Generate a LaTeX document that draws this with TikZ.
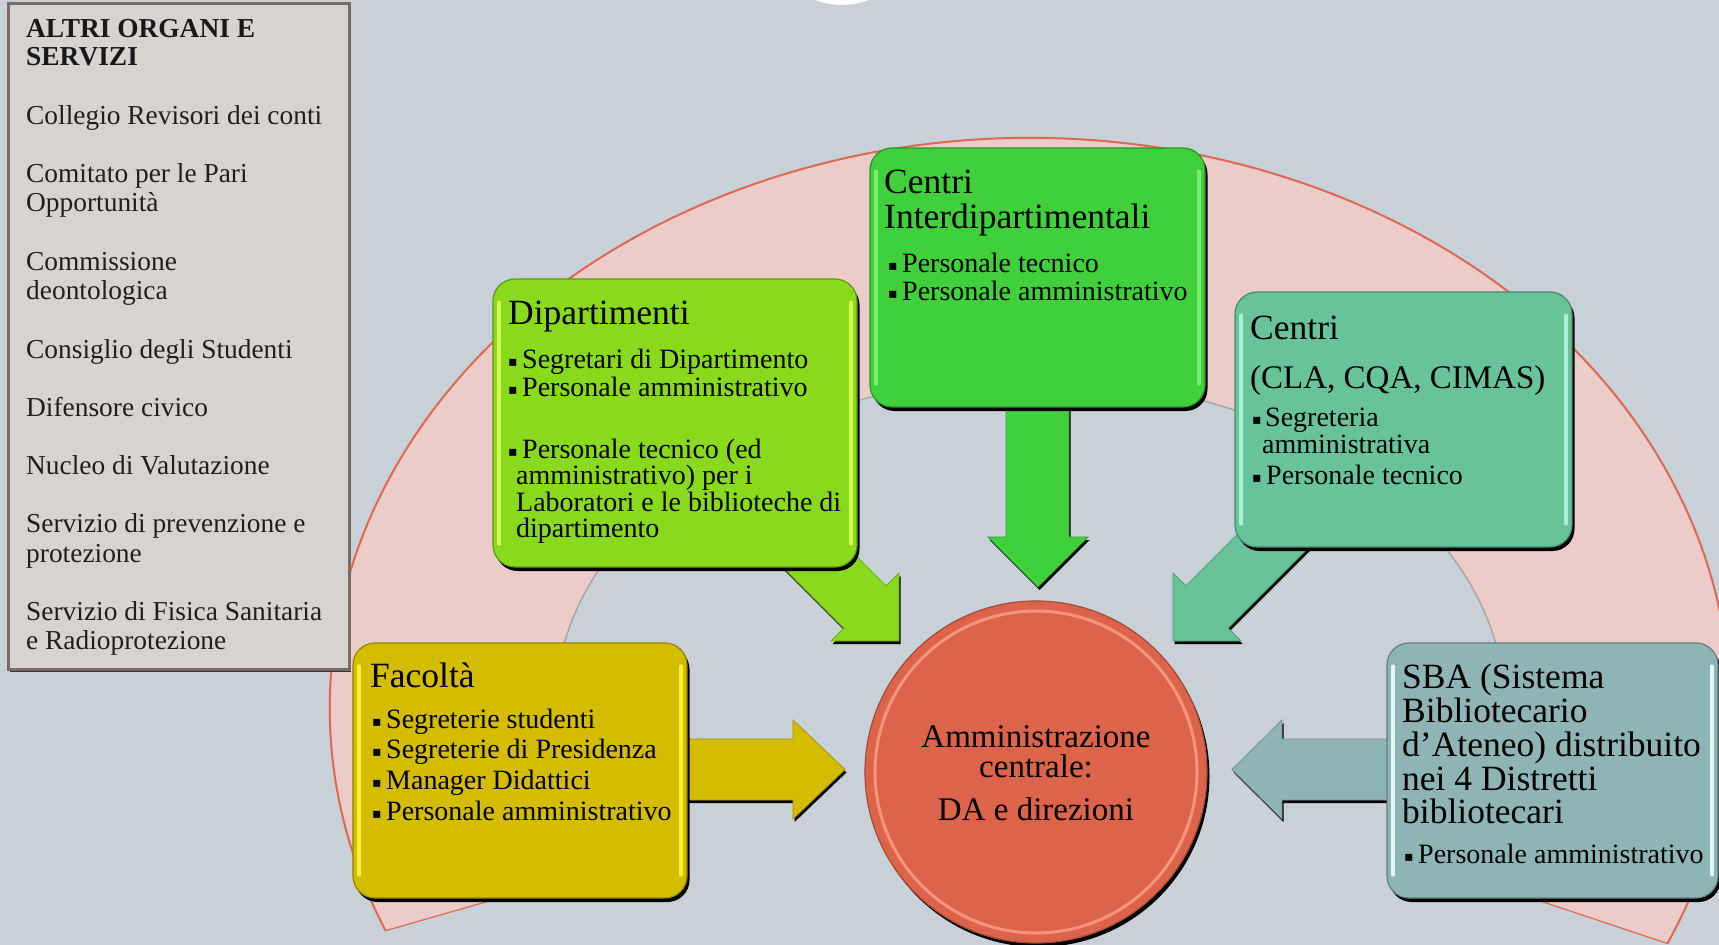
\documentclass[tikz,border=0pt]{standalone}
\usepackage{fontspec}
\setmainfont{Liberation Serif}
\newfontfamily\symf{DejaVu Sans}
\usetikzlibrary{shadows}
\definecolor{bgc}{RGB}{199,209,215}
\definecolor{pinkc}{RGB}{236,204,201}
\definecolor{arcc}{RGB}{222,104,82}
\definecolor{altf}{RGB}{215,211,208}
\definecolor{altd}{RGB}{122,108,100}
\definecolor{dipc}{RGB}{137,217,28}
\definecolor{diph}{RGB}{215,250,80}
\definecolor{cidc}{RGB}{64,208,60}
\definecolor{cidh}{RGB}{120,240,110}
\definecolor{cenc}{RGB}{104,196,152}
\definecolor{cenh}{RGB}{170,240,210}
\definecolor{facc}{RGB}{212,188,0}
\definecolor{fach}{RGB}{255,240,60}
\definecolor{sbac}{RGB}{143,180,180}
\definecolor{sbah}{RGB}{225,248,248}
\definecolor{ammc}{RGB}{220,100,74}
\definecolor{ammh}{RGB}{245,150,120}
\begin{document}
\begin{tikzpicture}[x=1pt,y=-1pt,
  box/.style={rectangle, rounded corners=22pt, fill=#1, draw=#1!70!black, line width=1.2pt, inner sep=0pt,
    drop shadow={shadow xshift=2.5pt, shadow yshift=-4pt, opacity=1, fill=black}},
  hl/.style={line width=4pt, draw=#1, line cap=round},
  arw/.style={fill=#1, draw=#1!80!black, line width=0.8pt,
    drop shadow={shadow xshift=1.5pt, shadow yshift=-3pt, opacity=1, fill=black}},
  ttl/.style={anchor=base west, inner sep=0pt, font=\fontsize{35.5}{36}\selectfont},
  ttlb/.style={anchor=base west, inner sep=0pt, font=\fontsize{33}{34}\selectfont},
  itm/.style={anchor=base west, inner sep=0pt, font=\fontsize{28}{30}\selectfont},
  bul/.style={anchor=base west, inner sep=0pt, font=\symf\fontsize{14}{16}\selectfont},
  alt/.style={anchor=base west, inner sep=0pt, font=\fontsize{27.4}{29}\selectfont, text=black!88},
  altb/.style={anchor=base west, inner sep=0pt, font=\bfseries\fontsize{27.4}{29}\selectfont, text=black!90},
  ctr/.style={anchor=base, inner sep=0pt, font=\fontsize{33}{34}\selectfont}]
\useasboundingbox (0,0) rectangle (1719,945);
\fill[bgc] (0,0) rectangle (1719,945);
\begin{scope}
\clip (0,0) rectangle (1719,945);
\fill[white] (842,-68) circle (73);
\fill[pinkc] (385.6,930.7) arc[start angle=157, end angle=384.4, x radius=700, y radius=570]
  -- (1444.6,869) arc[start angle=389.2, end angle=151.5, x radius=475, y radius=330] -- cycle;
\draw[arcc, line width=2pt] (385.6,930.7) arc[start angle=157, end angle=384.4, x radius=700, y radius=570];
\draw[arcc, line width=1.2pt] (385.6,930.7) -- (612.7,865.5);
\draw[arcc, line width=1.2pt] (1667.5,943.5) -- (1444.6,869);
\draw[gray!70, line width=1.5pt] (1444.6,869) arc[start angle=389.2, end angle=151.5, x radius=475, y radius=330];
\end{scope}

% arrows
\draw[arw=facc] (680,739) -- (793,739) -- (793,720) -- (845,769.5) -- (793,819) -- (793,800) -- (680,800) -- cycle;
\draw[arw=sbac] (1395,739) -- (1282,739) -- (1282,720) -- (1232,769.5) -- (1282,819) -- (1282,800) -- (1395,800) -- cycle;
\draw[arw=cidc] (1006,400) -- (1006,537) -- (988,537) -- (1038,587) -- (1088,537) -- (1069,537) -- (1069,400) -- cycle;
\draw[arw=dipc] (771.8,556.2) -- (843.8,628.2) -- (831,641) -- (899,641) -- (899,573) -- (886.2,585.8) -- (814.2,513.8) -- cycle;
\draw[arw=cenc] (1272,499.6) -- (1185.8,585.8) -- (1173,573) -- (1173,641) -- (1241,641) -- (1228.2,628.2) -- (1314.4,542) -- cycle;

% boxes
\node[rectangle, fill=altf, draw=altd, line width=3pt, inner sep=0pt, minimum width=341pt, minimum height=666pt,
  drop shadow={shadow xshift=2pt, shadow yshift=-3pt, opacity=1, fill=black!80}] (alt) at (178.5,336) {};
\node[box=dipc, minimum width=364pt, minimum height=288pt] (dip) at (675,423) {};
\node[box=cidc, minimum width=335pt, minimum height=259pt] (cid) at (1037.5,277.5) {};
\node[box=cenc, minimum width=337pt, minimum height=255pt] (cen) at (1403.5,419.5) {};
\node[box=facc, minimum width=334pt, minimum height=255pt] (fac) at (520,770.5) {};
\node[box=sbac, minimum width=331pt, minimum height=255pt] (sba) at (1552.5,770.5) {};
\foreach \b/\h in {dip/diph, cid/cidh, cen/cenh, fac/fach, sba/sbah}{
  \draw[hl=\h] ([xshift=7pt,yshift=-24pt]\b.north west) -- ([xshift=7pt,yshift=24pt]\b.south west);
  \draw[hl=\h] ([xshift=-7pt,yshift=-24pt]\b.north east) -- ([xshift=-7pt,yshift=24pt]\b.south east);
}
\node[circle, minimum size=342pt, inner sep=0pt, fill=ammc, draw=ammc!75!black, line width=1.2pt,
  drop shadow={shadow xshift=2.5pt, shadow yshift=-4pt, opacity=1, fill=black}] (amm) at (1036,772) {};
\draw[ammh, line width=3pt] (amm.center) circle (161);

% Altri organi text
\node[altb] (a1) at (26,37) {ALTRI ORGANI E};
\node[altb] (a2) at (26,65) {SERVIZI};
\node[alt] (a3) at (26,124) {Collegio Revisori dei conti};
\node[alt] (a4) at (26,182) {Comitato per le Pari};
\node[alt] (a5) at (26,211) {Opportunità};
\node[alt] (a6) at (26,270) {Commissione};
\node[alt] (a7) at (26,299) {deontologica};
\node[alt] (a8) at (26,358) {Consiglio degli Studenti};
\node[alt] (a9) at (26,416) {Difensore civico};
\node[alt] (a10) at (26,474) {Nucleo di Valutazione};
\node[alt] (a11) at (26,532) {Servizio di prevenzione e};
\node[alt] (a12) at (26,562) {protezione};
\node[alt] (a13) at (26,620) {Servizio di Fisica Sanitaria};
\node[alt] (a14) at (26,649) {e Radioprotezione};

% Dipartimenti
\node[ttl] (d0) at (508,324) {Dipartimenti};
\node[bul] (db1) at (508,366) {▪};
\node[itm] (d1) at (522,368) {Segretari di Dipartimento};
\node[bul] (db2) at (508,394) {▪};
\node[itm] (d2) at (522,396) {Personale amministrativo};
\node[bul] (db3) at (508,456) {▪};
\node[itm] (d3) at (522,458) {Personale tecnico (ed};
\node[itm] (d4) at (516,484.5) {amministrativo) per i};
\node[itm] (d5) at (516,511) {Laboratori e le biblioteche di};
\node[itm] (d6) at (516,537) {dipartimento};

% Centri Interdipartimentali
\node[ttl] (c0) at (884,193) {Centri};
\node[ttl] (c1) at (884,228) {Interdipartimentali};
\node[bul] (cb1) at (888,270) {▪};
\node[itm] (c2) at (902,272) {Personale tecnico};
\node[bul] (cb2) at (888,298) {▪};
\node[itm] (c3) at (902,300) {Personale amministrativo};

% Centri (CLA, CQA, CIMAS)
\node[ttl] (e0) at (1250,339) {Centri};
\node[ttlb] (e1) at (1250,388) {(CLA, CQA, CIMAS)};
\node[bul] (eb1) at (1252,424) {▪};
\node[itm] (e2) at (1265,426) {Segreteria};
\node[itm] (e3) at (1262,453) {amministrativa};
\node[bul] (eb2) at (1252,482) {▪};
\node[itm] (e4) at (1266,484) {Personale tecnico};

% Facolta
\node[ttl] (f0) at (370,687) {Facoltà};
\node[bul] (fb1) at (372,726) {▪};
\node[itm] (f1) at (386,728) {Segreterie studenti};
\node[bul] (fb2) at (372,756) {▪};
\node[itm] (f2) at (386,758) {Segreterie di Presidenza};
\node[bul] (fb3) at (372,787) {▪};
\node[itm] (f3) at (386,789) {Manager Didattici};
\node[bul] (fb4) at (372,818) {▪};
\node[itm] (f4) at (386,820) {Personale amministrativo};

% SBA
\node[ttl] (s0) at (1402,688) {SBA (Sistema};
\node[ttl] (s1) at (1402,722) {Bibliotecario};
\node[ttl] (s2) at (1402,756) {d'Ateneo) distribuito};
\node[ttl] (s3) at (1402,790) {nei 4 Distretti};
\node[ttl] (s4) at (1402,823) {bibliotecari};
\node[bul] (sb1) at (1404,861) {▪};
\node[itm] (s5) at (1418,863) {Personale amministrativo};

% Amministrazione centrale
\node[ctr] (m0) at (1036,747) {Amministrazione};
\node[ctr] (m1) at (1036,777) {centrale:};
\node[ctr] (m2) at (1036,820) {DA e direzioni};
\end{tikzpicture}
\end{document}
